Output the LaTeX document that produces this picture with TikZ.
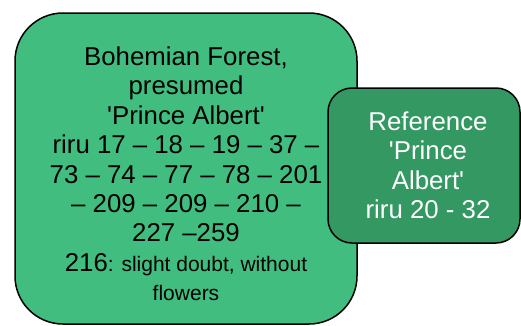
\documentclass[tikz,border=0pt]{standalone}
\usepackage{fontspec}
\setmainfont{Liberation Sans}
\definecolor{bigfill}{RGB}{65,190,127}
\definecolor{smallfill}{RGB}{52,152,98}
\tikzset{
  box/.style={draw=black, line width=1.5pt},
  bigtext/.style={font=\fontsize{25.8}{29.4}\selectfont, align=center, inner sep=0pt, anchor=north, text=black},
  smalltext/.style={font=\fontsize{25.8}{29.4}\selectfont, align=center, inner sep=0pt, anchor=north, text=white}
}
\begin{document}
\begin{tikzpicture}[x=1pt,y=-1pt]
\useasboundingbox (0,0) rectangle (521,325);
\draw[box, fill=bigfill, rounded corners=48pt] (15,13) rectangle (357,324);
\draw[box, fill=smallfill, rounded corners=24pt] (328,88) rectangle (520,243);
\node[bigtext] (bigtxt) at (186,46.5) {Bohemian Forest,\\presumed\\\textquotesingle Prince Albert\textquotesingle\\riru 17 – 18 – 19 – 37 –\\73 – 74 – 77 – 78 – 201\\– 209 – 209 – 210 –\\227 –259\\216{\fontsize{21}{29.4}\selectfont: slight doubt, without}\\{\fontsize{21}{29.4}\selectfont flowers}};
\node[smalltext] (smalltxt) at (428,111.5) {Reference\\\textquotesingle Prince\\Albert\textquotesingle\\riru 20 - 32};
\end{tikzpicture}
\end{document}
